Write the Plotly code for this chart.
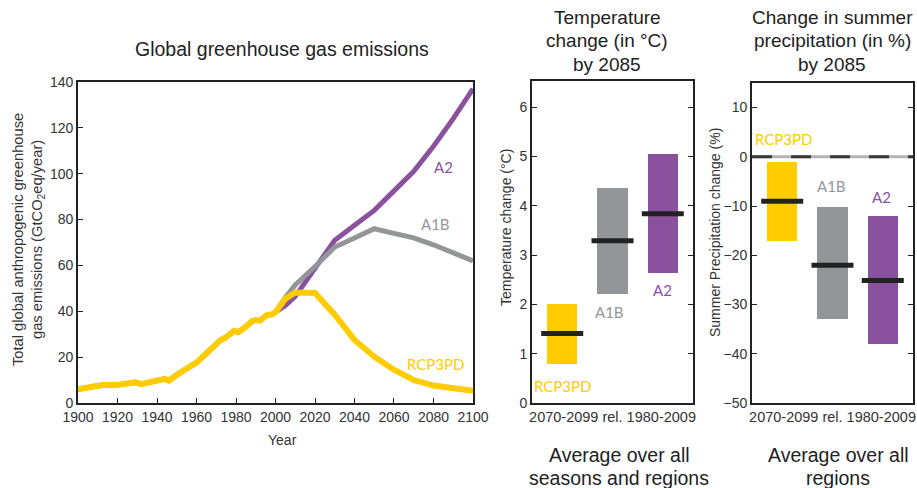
import plotly.graph_objects as go

# --- emissions (GtCO2eq/year) ---
hist_years = [1900, 1903, 1906, 1910, 1913, 1916, 1920, 1923, 1926, 1929, 1932, 1935,
              1938, 1941, 1944, 1946, 1948, 1950, 1953, 1956, 1960, 1963, 1966, 1970,
              1972, 1975, 1977, 1979, 1981, 1983, 1985, 1988, 1990, 1992, 1994, 1996,
              1998, 2000]
hist_values = [6.0, 6.6, 7.2, 7.5, 7.8, 7.6, 7.9, 8.3, 8.4, 9.0, 8.2, 8.9,
               9.4, 10.0, 10.5, 9.8, 11.2, 12.3, 13.9, 15.6, 17.6, 20.0, 22.5, 26.0,
               27.3, 28.7, 29.8, 31.5, 30.9, 31.8, 33.2, 35.6, 36.2, 35.9, 37.0, 38.5,
               38.6, 39.6]

future_years = [2005, 2010, 2020, 2030, 2040, 2050, 2060, 2070, 2080, 2090, 2100]
rcp3pd_future = [45.5, 48.2, 48.0, 38.5, 27.5, 20.2, 14.5, 10.0, 7.6, 6.2, 5.3]
a1b_future = [46.0, 51.5, 59.5, 68.0, 72.0, 76.0, 74.0, 72.0, 69.0, 65.5, 62.0]
a2_future = [42.5, 46.5, 59.0, 71.0, 77.5, 84.0, 92.5, 101.0, 112.0, 124.0, 137.0]

# --- regional change by 2085 ---
scenarios = ["RCP3PD", "A1B", "A2"]
temp_low = [0.8, 2.22, 2.63]
temp_high = [2.0, 4.35, 5.04]
temp_median = [1.41, 3.29, 3.84]
precip_low = [-17.1, -33.0, -38.1]
precip_high = [-1.1, -10.1, -12.1]
precip_median = [-9.0, -22.0, -25.1]

colors = {"RCP3PD": "#FFCC00", "A1B": "#939598", "A2": "#8A529E"}
font = "Liberation Sans, Arial, sans-serif"
label_font = "Lato, Open Sans, sans-serif"

fig = go.Figure()

# lines (yellow on top)
fig.add_trace(go.Scatter(x=hist_years + future_years, y=hist_values + a2_future,
                         mode="lines", line=dict(color=colors["A2"], width=5),
                         xaxis="x", yaxis="y", showlegend=False))
fig.add_trace(go.Scatter(x=hist_years + future_years, y=hist_values + a1b_future,
                         mode="lines", line=dict(color=colors["A1B"], width=5),
                         xaxis="x", yaxis="y", showlegend=False))
fig.add_trace(go.Scatter(x=hist_years + future_years, y=hist_values + rcp3pd_future,
                         mode="lines", line=dict(color=colors["RCP3PD"], width=6),
                         xaxis="x", yaxis="y", showlegend=False))

# floating range bars + median marks
cat_pos = [1, 2, 3]
for axx, axy, low, high, med in [("x2", "y2", temp_low, temp_high, temp_median),
                                 ("x3", "y3", precip_low, precip_high, precip_median)]:
    fig.add_trace(go.Bar(x=cat_pos, y=[h - l for h, l in zip(high, low)], base=low,
                         width=0.6, marker=dict(color=[colors[s] for s in scenarios], line_width=0),
                         xaxis=axx, yaxis=axy, showlegend=False))
    fig.add_trace(go.Scatter(x=cat_pos, y=med, mode="markers",
                             marker=dict(symbol="line-ew", size=30,
                                         line=dict(color="#222222", width=5)),
                             xaxis=axx, yaxis=axy, showlegend=False))

axis_common = dict(showline=True, linecolor="#222222", linewidth=2, mirror=True,
                   ticks="inside", ticklen=5, tickcolor="#222222", showgrid=False,
                   zeroline=False, automargin=False,
                   tickfont=dict(family=font, size=14, color="#333333"))
cat_axis = dict(showline=True, linecolor="#222222", linewidth=2, mirror=True,
                showgrid=False, zeroline=False, ticks="", automargin=False,
                range=[0.4, 3.6], tickvals=[2], ticktext=["2070-2099 rel. 1980-2009"],
                tickfont=dict(family=font, size=14.5, color="#333333"))

fig.update_layout(
    width=917, height=488, margin=dict(l=0, r=0, t=0, b=0, autoexpand=False),
    paper_bgcolor="white", plot_bgcolor="white", bargap=0,
    font=dict(family=font, color="#222222"),
    xaxis=dict(domain=[0.0851, 0.5158], range=[1900, 2100], tickvals=list(range(1900, 2101, 20)),
               anchor="y", **axis_common),
    yaxis=dict(domain=[0.1742, 0.832], range=[0, 140], tickvals=list(range(0, 141, 20)),
               anchor="x", **axis_common),
    xaxis2=dict(domain=[0.5802, 0.7557], anchor="y2", **cat_axis),
    yaxis2=dict(domain=[0.1742, 0.834], range=[0, 6.53], tickvals=list(range(0, 7)),
                anchor="x2", **{**axis_common, "mirror": "ticks"}),
    xaxis3=dict(domain=[0.8201, 0.9956], anchor="y3", **cat_axis),
    yaxis3=dict(domain=[0.1742, 0.830], range=[-50, 15], tickvals=list(range(-50, 11, 10)),
                anchor="x3", **{**axis_common, "mirror": "ticks"}),
)

# zero reference line on precipitation panel
fig.add_shape(type="line", xref="x3 domain", x0=0, x1=1, yref="y3", y0=0, y1=0,
              line=dict(color="#B4B4B4", width=3))
fig.add_shape(type="line", xref="x3 domain", x0=0, x1=1, yref="y3", y0=0, y1=0,
              line=dict(color="#3A3A3A", width=3, dash="20px,19px"))

ann = []
def txt(text, x, y, size, color="#222222", xref="paper", yref="paper", fam=font, angle=0):
    ann.append(dict(text=text, x=x, y=y, xref=xref, yref=yref, showarrow=False,
                    font=dict(family=fam, size=size, color=color), textangle=angle,
                    xanchor="center", yanchor="middle"))

W, H = 917, 488
# titles (one annotation per line to keep the tight line spacing)
txt("Global greenhouse gas emissions", 282 / W, 1 - 49 / H, 19.5)
for line, ypx in zip(["Temperature", "change (in °C)", "by 2085"], [18, 41, 64]):
    txt(line, 607 / W, 1 - ypx / H, 19)
for line, ypx in zip(["Change in summer", "precipitation (in %)", "by 2085"], [17, 41, 64]):
    txt(line, 832 / W, 1 - ypx / H, 19)
for line, ypx in zip(["Average over all", "seasons and regions"], [455, 478]):
    txt(line, 619 / W, 1 - ypx / H, 19.5)
for line, ypx in zip(["Average over all", "regions"], [455, 478]):
    txt(line, 838 / W, 1 - ypx / H, 19.5)
# axis titles
txt("Total global anthropogenic greenhouse<br>gas emissions (GtCO<sub>2</sub>eq/year)",
    28 / W, 1 - 240 / H, 14.7, color="#333333", angle=-90)
txt("Year", 282 / W, 1 - 440 / H, 14, color="#333333")
txt("Temperature change (°C)", 506 / W, 1 - 228 / H, 14, color="#333333", angle=-90)
txt("Summer Precipitation change (%)", 715 / W, 1 - 233 / H, 14, color="#333333", angle=-90)

# series labels
txt("A2", 2085, 103, 15, colors["A2"], "x", "y", label_font)
txt("A1B", 2081, 78, 15, colors["A1B"], "x", "y", label_font)
txt("RCP3PD", 2081, 17, 15, colors["RCP3PD"], "x", "y", label_font)
txt("RCP3PD", 1.0, 0.35, 15, colors["RCP3PD"], "x2", "y2", label_font)
txt("A1B", 1.95, 1.85, 15, colors["A1B"], "x2", "y2", label_font)
txt("A2", 3.0, 2.3, 15, colors["A2"], "x2", "y2", label_font)
txt("RCP3PD", 1.03, 3.6, 15, colors["RCP3PD"], "x3", "y3", label_font)
txt("A1B", 1.98, -6.0, 15, colors["A1B"], "x3", "y3", label_font)
txt("A2", 2.97, -8.2, 15, colors["A2"], "x3", "y3", label_font)

fig.update_layout(annotations=ann)
# page body has a default 8px margin; remove it so the figure fills the window
fig.write_html("out.html", config={"displayModeBar": False},
               post_script="document.body.style.margin='0';document.body.style.overflow='hidden';")
